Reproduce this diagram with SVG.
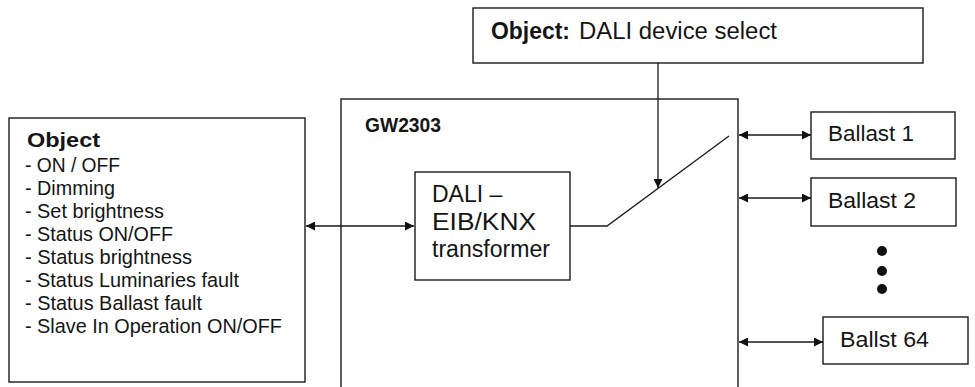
<svg xmlns="http://www.w3.org/2000/svg" width="975" height="387" viewBox="0 0 975 387">
<style>
.box{fill:#fff;stroke:#1a1a1a;stroke-width:1.4}
.ln{fill:none;stroke:#1a1a1a;stroke-width:1.3}
.t{font-family:"Liberation Sans",Arial,sans-serif;fill:#151515}
.b{font-weight:bold}
.lst{font-size:20.5px}
.big{font-size:23px}
.bal{font-size:21.5px}
</style>
<defs>
<marker id="ah" viewBox="0 0 10 10" refX="10" refY="5" markerWidth="11" markerHeight="9" markerUnits="userSpaceOnUse" orient="auto-start-reverse">
<path d="M0,0 L10,5 L0,10 z" fill="#111"/>
</marker>
</defs>
<rect width="975" height="387" fill="#fff"/>

<g id="gw2303">
<rect class="box" x="341" y="99" width="397" height="300"/>
<text class="t b" x="365" y="132" font-size="20" textLength="76" lengthAdjust="spacingAndGlyphs">GW2303</text>
</g>

<g id="objects">
<rect class="box" x="9" y="118" width="296" height="264"/>
<text class="t b" x="27" y="147" font-size="21" textLength="73" lengthAdjust="spacingAndGlyphs">Object</text>
<text class="t lst" x="25" y="172" textLength="95" lengthAdjust="spacingAndGlyphs">- ON / OFF</text>
<text class="t lst" x="25" y="195" textLength="90" lengthAdjust="spacingAndGlyphs">- Dimming</text>
<text class="t lst" x="25" y="218" textLength="139" lengthAdjust="spacingAndGlyphs">- Set brightness</text>
<text class="t lst" x="25" y="241" textLength="148" lengthAdjust="spacingAndGlyphs">- Status ON/OFF</text>
<text class="t lst" x="25" y="264" textLength="167" lengthAdjust="spacingAndGlyphs">- Status brightness</text>
<text class="t lst" x="25" y="287" textLength="214" lengthAdjust="spacingAndGlyphs">- Status Luminaries fault</text>
<text class="t lst" x="25" y="310" textLength="177" lengthAdjust="spacingAndGlyphs">- Status Ballast fault</text>
<text class="t lst" x="25" y="333" textLength="257" lengthAdjust="spacingAndGlyphs">- Slave In Operation ON/OFF</text>
</g>

<g id="select">
<rect class="box" x="473" y="8" width="450" height="55"/>
<text class="t b big" x="491" y="39" textLength="79" lengthAdjust="spacingAndGlyphs">Object:</text>
<text class="t big" x="579" y="39" textLength="198" lengthAdjust="spacingAndGlyphs">DALI device select</text>
</g>

<g id="transformer">
<rect class="box" x="415" y="172" width="155" height="108"/>
<text class="t big" x="432" y="202">DALI –</text>
<text class="t big" x="432" y="230" textLength="104" lengthAdjust="spacingAndGlyphs">EIB/KNX</text>
<text class="t big" x="432" y="257" textLength="118" lengthAdjust="spacingAndGlyphs">transformer</text>
</g>

<g id="ballast1">
<rect class="box" x="811" y="112" width="144" height="47"/>
<text class="t bal" x="828" y="141" textLength="86" lengthAdjust="spacingAndGlyphs">Ballast 1</text>
</g>
<g id="ballast2">
<rect class="box" x="811" y="178" width="145" height="48"/>
<text class="t bal" x="828" y="208" textLength="88" lengthAdjust="spacingAndGlyphs">Ballast 2</text>
</g>
<g id="dots">
<circle cx="882" cy="251" r="5" fill="#111"/>
<circle cx="882" cy="271" r="5" fill="#111"/>
<circle cx="882" cy="289" r="5" fill="#111"/>
</g>
<g id="ballast64">
<rect class="box" x="823" y="317" width="145" height="47"/>
<text class="t bal" x="840" y="347" textLength="89" lengthAdjust="spacingAndGlyphs">Ballst 64</text>
</g>

<g id="connectors">
<line class="ln" x1="306" y1="226" x2="414" y2="226" marker-start="url(#ah)" marker-end="url(#ah)"/>
<polyline class="ln" points="570,226 607,226 729,136"/>
<line class="ln" x1="658" y1="63" x2="658" y2="188" marker-end="url(#ah)"/>
<line class="ln" x1="739" y1="135" x2="811" y2="135" marker-start="url(#ah)" marker-end="url(#ah)"/>
<line class="ln" x1="739" y1="198" x2="811" y2="198" marker-start="url(#ah)" marker-end="url(#ah)"/>
<line class="ln" x1="739" y1="342" x2="823" y2="342" marker-start="url(#ah)" marker-end="url(#ah)"/>
</g>
</svg>
